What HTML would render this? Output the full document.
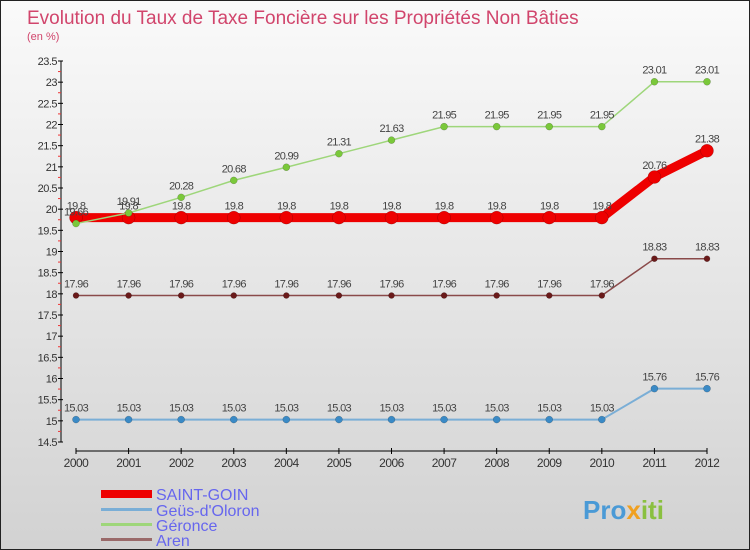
<!DOCTYPE html>
<html><head><meta charset="utf-8"><style>
body{margin:0}
#c{width:750px;height:550px;position:relative;overflow:hidden;box-sizing:border-box;border:1px solid #222;background:linear-gradient(#fafafa,#d2d2d2);font-family:"Liberation Sans",sans-serif}
</style></head><body>
<div id="c">
<svg width="750" height="550" style="position:absolute;left:0;top:0" id="s">
<text x="26" y="23" font-size="19" fill="#d1456c">Evolution du Taux de Taxe Foncière sur les Propriétés Non Bâties</text>
<text x="26" y="39" font-size="11" fill="#d1456c">(en %)</text>
<g id="axes"></g><g id="series"></g>
<g>
<rect x="100" y="489" width="51" height="8" fill="#ee0000"/>
<text x="155" y="499" font-size="16" fill="#6666ee">SAINT-GOIN</text>
<rect x="100" y="507" width="51" height="3" fill="#7aaed6"/>
<text x="155" y="515" font-size="16" fill="#6666ee">Geüs-d'Oloron</text>
<rect x="100" y="522" width="51" height="3" fill="#9ed67a"/>
<text x="155" y="530" font-size="16" fill="#6666ee">Géronce</text>
<rect x="100" y="537" width="51" height="3" fill="#9a6a6a"/>
<text x="155" y="545" font-size="16" fill="#6666ee">Aren</text>
</g>
<text x="582" y="518" font-size="26" font-weight="bold" fill="#4a9ad6">Pro<tspan fill="#f0a020">x</tspan><tspan fill="#8ac040">iti</tspan></text>
</svg>
</div>
<script>
const years=[2000,2001,2002,2003,2004,2005,2006,2007,2008,2009,2010,2011,2012];
const yTicks=[14.5,15,15.5,16,16.5,17,17.5,18,18.5,19,19.5,20,20.5,21,21.5,22,22.5,23,23.5];
const saintGoin=[19.8,19.8,19.8,19.8,19.8,19.8,19.8,19.8,19.8,19.8,19.8,20.76,21.38];
const geus=[15.03,15.03,15.03,15.03,15.03,15.03,15.03,15.03,15.03,15.03,15.03,15.76,15.76];
const geronce=[19.66,19.91,20.28,20.68,20.99,21.31,21.63,21.95,21.95,21.95,21.95,23.01,23.01];
const aren=[17.96,17.96,17.96,17.96,17.96,17.96,17.96,17.96,17.96,17.96,17.96,18.83,18.83];
const NS="http://www.w3.org/2000/svg";
const xS=i=>75+i*(706-75)/12;
const yS=v=>60+(23.5-v)*(441-60)/9;
function mk(t,a,p){const e=document.createElementNS(NS,t);for(const k in a)e.setAttribute(k,a[k]);p.appendChild(e);return e;}
const ax=document.getElementById('axes');
const yAxis=mk('line',{x1:60,y1:60,x2:60,y2:441,stroke:'#000','stroke-width':1},ax);


yTicks.forEach((v,i)=>{const y=yS(v);
mk('line',{x1:57,x2:62,y1:y,y2:y,stroke:'#000'},ax);
if(i<yTicks.length-1)mk('line',{x1:57,x2:60,y1:y-10.6,y2:y-10.6,stroke:'#e33'},ax);
const t=mk('text',{x:56,y:y+4,'font-size':11,fill:'#333','text-anchor':'end','letter-spacing':'-0.5'},ax);t.textContent=v;

});
const xAxis=mk('line',{x1:75,y1:450,x2:706,y2:450,stroke:'#000'},ax);


years.forEach((yr,i)=>{const x=xS(i);
mk('line',{x1:x,x2:x,y1:447,y2:453,stroke:'#000'},ax);
const t=mk('text',{x:x,y:466,'font-size':12,fill:'#333','text-anchor':'middle','letter-spacing':'-0.5'},ax);t.textContent=yr;

});
const sg=document.getElementById('series');
function draw(name,vals,col,w,r,dot,ls){
const g=mk('g',{},sg);


const l=mk('polyline',{points:vals.map((v,i)=>xS(i)+','+yS(v)).join(' '),fill:'none',stroke:col,'stroke-width':w,'stroke-linejoin':'round'},g);


vals.forEach((v,i)=>{const c=mk('circle',{cx:xS(i),cy:yS(v),r:r,fill:dot,stroke:'rgba(0,0,0,0.3)','stroke-width':0.5},g);


const t=mk('text',{x:xS(i),y:yS(v)-8,'font-size':11,fill:'#444','text-anchor':'middle','letter-spacing':'-0.7'},g);t.textContent=v;

});}
draw('aren',aren,'#8a4a4a',1.5,3,'#6a1a1a');
draw('geus',geus,'#7aaed6',2,3.5,'#3a8ac6');
draw('saint-goin',saintGoin,'#ee0000',9,6.5,'#ee0000');
draw('geronce',geronce,'#9ed67a',1.5,3.5,'#7ac83a');
</script>
</body></html>
